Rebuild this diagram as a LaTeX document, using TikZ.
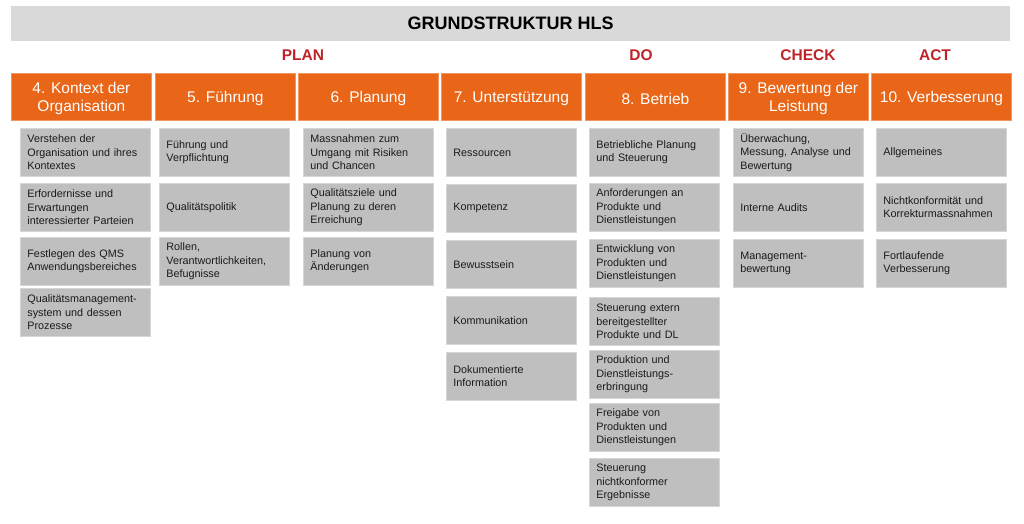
\documentclass[tikz,border=0pt]{standalone}
\usepackage{fontspec}
\setmainfont{Liberation Sans}
\definecolor{titlegray}{HTML}{D9D9D9}
\definecolor{hdrorange}{RGB}{233,101,23}
\definecolor{hdredge}{RGB}{240,150,100}
\definecolor{phasered}{RGB}{190,35,40}
\definecolor{boxgray}{HTML}{BFBFBF}
\definecolor{boxedge}{HTML}{D6D6D6}
\definecolor{itemtext}{HTML}{1A1A1A}
\begin{document}
\begin{tikzpicture}[x=1pt,y=-1pt,
  titlebar/.style={fill=titlegray, draw=none, minimum width=999pt, minimum height=35pt, anchor=north west, inner sep=0pt, font=\fontsize{18}{20}\selectfont\bfseries},
  phase/.style={text=phasered, inner sep=0pt, font=\fontsize{15.5}{18}\selectfont\bfseries},
  hdr/.style={fill=hdrorange, draw=hdredge, line width=0.8pt, minimum width=140pt, minimum height=47pt, anchor=north west, inner sep=0pt},
  hdrtext/.style={text=white, align=center, inner sep=0pt, font=\fontsize{15.5}{18.3}\selectfont},
  item/.style={fill=boxgray, draw=boxedge, line width=0.8pt, minimum width=130pt, minimum height=48pt, text width=116pt, inner xsep=7pt, inner ysep=0pt, anchor=north west, align=left, text=itemtext, font=\fontsize{10.8}{13.3}\selectfont}]
\useasboundingbox (0,0) rectangle (1024,524);

% title
\node[titlebar] (title) at (11,6) {GRUNDSTRUKTUR HLS};

% phases
\node[phase] (plan) at (303,55) {PLAN};
\node[phase] (do) at (641,55) {DO};
\node[phase] (check) at (808,55) {CHECK};
\node[phase] (act) at (935,55) {ACT};

% headers
\node[hdr] (h4) at (11,73) {};
\node[hdr] (h5) at (155,73) {};
\node[hdr] (h6) at (298,73) {};
\node[hdr] (h7) at (441,73) {};
\node[hdr] (h8) at (585,73) {};
\node[hdr] (h9) at (728,73) {};
\node[hdr] (h10) at (871,73) {};
\node[hdrtext] (t4) at ([yshift=-1.8pt]h4.center) {4. Kontext der\\Organisation};
\node[hdrtext] (t5) at ([yshift=-1.8pt]h5.center) {5. Führung};
\node[hdrtext] (t6) at ([yshift=-1.8pt]h6.center) {6. Planung};
\node[hdrtext] (t7) at ([yshift=-1.8pt]h7.center) {7. Unterstützung};
\node[hdrtext] (t8) at ([yshift=-1.8pt]h8.center) {8. Betrieb};
\node[hdrtext] (t9) at ([yshift=-1.8pt]h9.center) {9. Bewertung der\\Leistung};
\node[hdrtext] (t10) at ([yshift=-1.8pt]h10.center) {10. Verbesserung};

% column 4
\node[item] (a1) at (20,128) {Verstehen der\\Organisation und ihres\\Kontextes};
\node[item] (a2) at (20,183) {Erfordernisse und\\Erwartungen\\interessierter Parteien};
\node[item] (a3) at (20,237) {Festlegen des QMS\\Anwendungsbereiches};
\node[item] (a4) at (20,288) {Qualitätsmanagement-\\system und dessen\\Prozesse};

% column 5
\node[item] (b1) at (159,128) {Führung und\\Verpflichtung};
\node[item] (b2) at (159,183) {Qualitätspolitik};
\node[item] (b3) at (159,237) {Rollen,\\Verantwortlichkeiten,\\Befugnisse};

% column 6
\node[item] (c1) at (303,128) {Massnahmen zum\\Umgang mit Risiken\\und Chancen};
\node[item] (c2) at (303,183) {Qualitätsziele und\\Planung zu deren\\Erreichung};
\node[item] (c3) at (303,237) {Planung von\\Änderungen};

% column 7
\node[item] (d1) at (446,128) {Ressourcen};
\node[item] (d2) at (446,184) {Kompetenz};
\node[item] (d3) at (446,240) {Bewusstsein};
\node[item] (d4) at (446,296) {Kommunikation};
\node[item] (d5) at (446,352) {Dokumentierte\\Information};

% column 8
\node[item] (e1) at (589,128) {Betriebliche Planung\\und Steuerung};
\node[item] (e2) at (589,183) {Anforderungen an\\Produkte und\\Dienstleistungen};
\node[item] (e3) at (589,239) {Entwicklung von\\Produkten und\\Dienstleistungen};
\node[item] (e4) at (589,297) {Steuerung extern\\bereitgestellter\\Produkte und DL};
\node[item] (e5) at (589,350) {Produktion und\\Dienstleistungs-\\erbringung};
\node[item] (e6) at (589,403) {Freigabe von\\Produkten und\\Dienstleistungen};
\node[item] (e7) at (589,458) {Steuerung\\nichtkonformer\\Ergebnisse};

% column 9
\node[item] (f1) at (733,128) {Überwachung,\\Messung, Analyse und\\Bewertung};
\node[item] (f2) at (733,183) {Interne Audits};
\node[item] (f3) at (733,239) {Management-\\bewertung};

% column 10
\node[item] (g1) at (876,128) {Allgemeines};
\node[item] (g2) at (876,183) {Nichtkonformität und\\Korrekturmassnahmen};
\node[item] (g3) at (876,239) {Fortlaufende\\Verbesserung};
\end{tikzpicture}
\end{document}
